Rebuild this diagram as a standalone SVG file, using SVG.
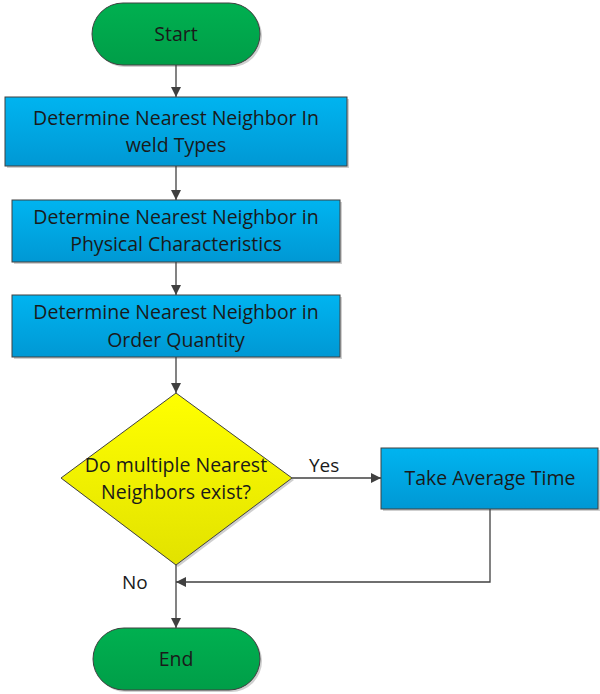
<svg xmlns="http://www.w3.org/2000/svg" width="600" height="694" viewBox="0 0 600 694">
<defs>
<linearGradient id="gGreen" x1="0" y1="0" x2="0" y2="1"><stop offset="0" stop-color="#00B050"/><stop offset="1" stop-color="#009E48"/></linearGradient>
<linearGradient id="gBlue" x1="0" y1="0" x2="0" y2="1"><stop offset="0" stop-color="#00B4F0"/><stop offset="1" stop-color="#0098D4"/></linearGradient>
<linearGradient id="gYellow" x1="0" y1="0" x2="0" y2="1"><stop offset="0" stop-color="#FFFF00"/><stop offset="1" stop-color="#E2E200"/></linearGradient>
<marker id="arr" viewBox="0 0 10 10" refX="10" refY="5" markerWidth="10" markerHeight="10" markerUnits="userSpaceOnUse" orient="auto"><path d="M0,0 L10,5 L0,10 z" fill="#404040"/></marker>
</defs>
<style>
.t{font-family:"Open Sans","Liberation Sans",sans-serif;font-size:19.5px;fill:#1a1a1a;text-anchor:middle}
.l{font-family:"Open Sans","Liberation Sans",sans-serif;font-size:19px;fill:#1a1a1a}
.shape{stroke:#404040;stroke-width:1}
.c{fill:none;stroke:#404040;stroke-width:1.3}
</style>
<rect width="600" height="694" fill="#ffffff"/>
<g id="start">
<rect x="94" y="5" width="168" height="62" rx="31" fill="#cfcfcf"/>
<rect class="shape" x="92" y="3" width="168" height="62" rx="31" fill="url(#gGreen)"/>
<text class="t" x="176" y="41">Start</text>
</g>
<g id="box1">
<rect x="7" y="99" width="342" height="69" fill="#cfcfcf"/>
<rect class="shape" x="5" y="97" width="342" height="69" fill="url(#gBlue)"/>
<text class="t" x="176" y="125">Determine Nearest Neighbor In</text>
<text class="t" x="176" y="152">weld Types</text>
</g>
<g id="box2">
<rect x="14" y="202" width="328" height="62" fill="#cfcfcf"/>
<rect class="shape" x="12" y="200" width="328" height="62" fill="url(#gBlue)"/>
<text class="t" x="176" y="224">Determine Nearest Neighbor in</text>
<text class="t" x="176" y="251">Physical Characteristics</text>
</g>
<g id="box3">
<rect x="14" y="297" width="328" height="62" fill="#cfcfcf"/>
<rect class="shape" x="12" y="295" width="328" height="62" fill="url(#gBlue)"/>
<text class="t" x="176" y="319">Determine Nearest Neighbor in</text>
<text class="t" x="176" y="347">Order Quantity</text>
</g>
<g id="decision">
<polygon points="178,395 294,480 178,567 63,480" fill="#cfcfcf"/>
<polygon class="shape" points="176,393 292,478 176,565 61,478" fill="url(#gYellow)"/>
<text class="t" x="176" y="472">Do multiple Nearest</text>
<text class="t" x="176" y="499">Neighbors exist?</text>
</g>
<g id="avg">
<rect x="383" y="450" width="217" height="61" fill="#cfcfcf"/>
<rect class="shape" x="381" y="448" width="217" height="61" fill="url(#gBlue)"/>
<text class="t" x="490" y="485">Take Average Time</text>
</g>
<g id="end">
<rect x="95" y="630" width="167" height="62" rx="31" fill="#cfcfcf"/>
<rect class="shape" x="93" y="628" width="167" height="62" rx="31" fill="url(#gGreen)"/>
<text class="t" x="176" y="666">End</text>
</g>
<g id="connectors">
<line class="c" x1="176" y1="65" x2="176" y2="97" marker-end="url(#arr)"/>
<line class="c" x1="176" y1="166" x2="176" y2="200" marker-end="url(#arr)"/>
<line class="c" x1="176" y1="262" x2="176" y2="295" marker-end="url(#arr)"/>
<line class="c" x1="176" y1="357" x2="176" y2="393" marker-end="url(#arr)"/>
<line class="c" x1="292" y1="478" x2="381" y2="478" marker-end="url(#arr)"/>
<polyline class="c" points="490,509 490,582 176,582" marker-end="url(#arr)"/>
<line class="c" x1="176" y1="565" x2="176" y2="628" marker-end="url(#arr)"/>
<text class="l" x="309" y="472">Yes</text>
<text class="l" x="122" y="589">No</text>
</g>
</svg>
